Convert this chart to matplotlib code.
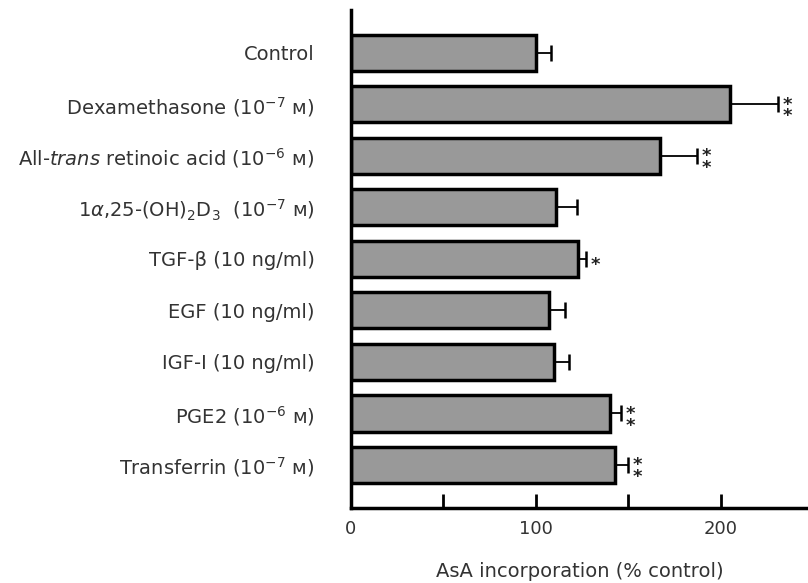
import numpy as np
import matplotlib
matplotlib.use('Agg')
import matplotlib.pyplot as plt

labels = ['Control',
          'Dexamethasone (10$^{-7}$ ᴍ)',
          'All-$\\mathit{trans}$ retinoic acid (10$^{-6}$ ᴍ)',
          '1$\\alpha$,25-(OH)$_2$D$_3$  (10$^{-7}$ ᴍ)',
          'TGF-β (10 ng/ml)',
          'EGF (10 ng/ml)',
          'IGF-I (10 ng/ml)',
          'PGE2 (10$^{-6}$ ᴍ)',
          'Transferrin (10$^{-7}$ ᴍ)']
values = [100, 205, 167, 111, 123, 107, 110, 140, 143]
errors = [8, 26, 20, 11, 4, 9, 8, 6, 7]
stars = ['', '**', '**', '', '*', '', '', '**', '**']

plt.rcParams['mathtext.fontset'] = 'dejavusans'
fig = plt.figure(figsize=(8.08, 5.83), dpi=100)
ax = fig.add_axes([0.434, 0.129, 0.566, 0.854])

y = np.arange(len(labels))
ax.barh(y, values, height=0.7, color='#999999', edgecolor='black', linewidth=2.5)
ax.errorbar(values, y, xerr=[np.zeros(len(errors)), errors], fmt='none',
            ecolor='black', elinewidth=1.3, capsize=6, capthick=1.8)

# significance marks, stacked vertically
for yi, v, e, s in zip(y, values, errors, stars):
    if s:
        ax.text(v + e + 5, yi + 0.12, '\n'.join(s), ha='center', va='center',
                fontsize=13, color='#222222', fontweight='bold', linespacing=0.55)

ax.set_ylim(len(labels) - 1 + 0.83, -0.83)
ax.set_xlim(0, 247)
ax.set_yticks(y)
ax.set_yticklabels(labels, fontsize=14, color='#333333')
ax.tick_params(axis='y', length=0, pad=26)
ax.set_xticks([0, 50, 100, 150, 200])
ax.set_xticklabels(['0', '', '100', '', '200'], fontsize=13, color='#333333')
ax.tick_params(axis='x', direction='in', length=10, width=2, pad=9)
ax.set_xlabel('AsA incorporation (% control)', fontsize=14, color='#333333', labelpad=17)

for side in ['top', 'right']:
    ax.spines[side].set_visible(False)
for side in ['left', 'bottom']:
    ax.spines[side].set_linewidth(2.5)

fig.savefig('out.png', dpi=100)
